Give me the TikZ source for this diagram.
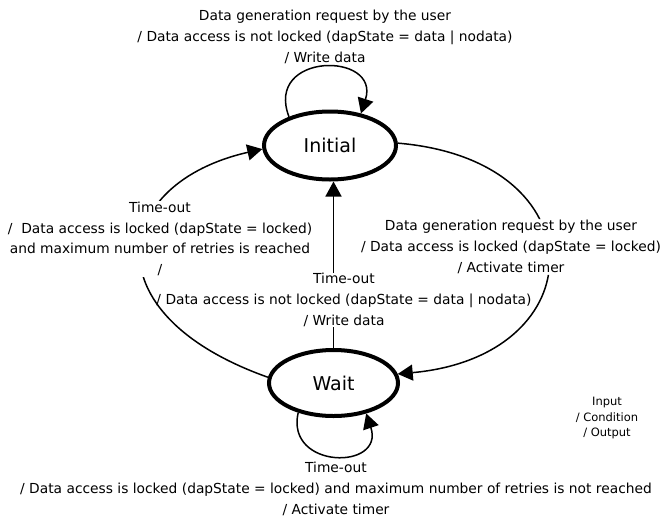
\documentclass[tikz,border=0pt]{standalone}
\usepackage{fontspec}
\setmainfont{DejaVu Sans}
\usetikzlibrary{arrows.meta,shapes.geometric}
\begin{document}
\begin{tikzpicture}[x=1pt,y=-1pt,
  state/.style={ellipse, draw, line width=4pt, inner sep=0pt, font=\fontsize{19}{22}\selectfont},
  arr/.style={line width=1.5pt, -{Triangle[length=15pt,width=16pt]}},
  lbl/.style={align=center, font=\fontsize{13.8}{20.7}\selectfont, inner sep=1pt},
  lblw/.style={lbl, fill=white},
  legend/.style={align=center, font=\fontsize{11.5}{15.5}\selectfont, inner sep=0pt}
]
\useasboundingbox[fill=white] (0,0) rectangle (663,525);

\node[state, minimum width=132pt, minimum height=68pt] (ini) at (330,145.5) {Initial};
\node[state, minimum width=129pt, minimum height=66pt] (wait) at (333.5,383) {Wait};

% self loops
\draw[arr] (ini.145) .. controls +(-25,-65) and +(20,-62) .. (ini.46);
\draw[arr] (wait.220) .. controls +(-13,57) and +(19,57) .. (wait.317);

% vertical transition, hidden behind its label
\draw[arr] (wait.north) -- (wait.north |- ini.south);
\node[lblw, inner sep=0.5pt] (lmid) at (344,300) {Time-out\\/ Data access is not locked (dapState = data | nodata)\\/ Write data};

% left arc
\draw[arr] (wait.175) .. controls +(-180,-64) and +(-150,34) .. (ini.183);
\node[lblw] (lleft) at (160,239) {Time-out\\/~ Data access is locked (dapState = locked)\\and maximum number of retries is reached\\/};

% right arc, interrupted by its label
\node[lbl] (lright) at (511,247) {Data generation request by the user\\/ Data access is locked (dapState = locked)\\/ Activate timer};
\begin{scope}[even odd rule]
  \clip (0,0) rectangle (663,525) (lright.north west) rectangle (lright.south east);
  \draw[arr] (ini.2) .. controls +(202,17) and +(198,-18) .. (wait.8);
\end{scope}

\node[lbl] (ltop) at (325,37) {Data generation request by the user\\/ Data access is not locked (dapState = data | nodata)\\/ Write data};
\node[lbl] (lbot) at (336,489) {Time-out\\/ Data access is locked (dapState = locked) and maximum number of retries is not reached\\/ Activate timer};

\node[legend] (leg) at (607,418) {Input\\/ Condition\\/ Output};
\end{tikzpicture}
\end{document}
